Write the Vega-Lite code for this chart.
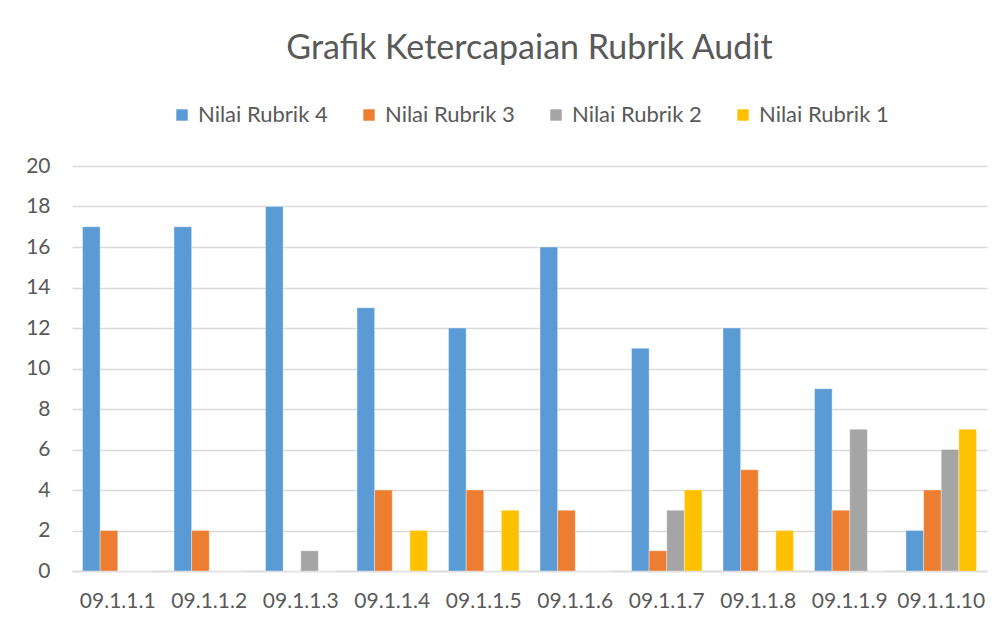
{
  "$schema": "https://vega.github.io/schema/vega-lite/v6.json",
  "width": 915,
  "height": 405,
  "autosize": {"type": "none"},
  "padding": {"left": 72, "top": 166, "right": 17, "bottom": 57},
  "background": "white",
  "title": {
    "text": "Grafik Ketercapaian Rubrik Audit",
    "fontSize": 34,
    "font": "Lato",
    "fontWeight": "normal",
    "color": "#595959",
    "anchor": "middle",
    "offset": 38
  },
  "data": {
    "values": [
      {"kode": "09.1.1.1", "seri": "Nilai Rubrik 4", "nilai": 17},
      {"kode": "09.1.1.1", "seri": "Nilai Rubrik 3", "nilai": 2},
      {"kode": "09.1.1.1", "seri": "Nilai Rubrik 2", "nilai": 0},
      {"kode": "09.1.1.1", "seri": "Nilai Rubrik 1", "nilai": 0},
      {"kode": "09.1.1.2", "seri": "Nilai Rubrik 4", "nilai": 17},
      {"kode": "09.1.1.2", "seri": "Nilai Rubrik 3", "nilai": 2},
      {"kode": "09.1.1.2", "seri": "Nilai Rubrik 2", "nilai": 0},
      {"kode": "09.1.1.2", "seri": "Nilai Rubrik 1", "nilai": 0},
      {"kode": "09.1.1.3", "seri": "Nilai Rubrik 4", "nilai": 18},
      {"kode": "09.1.1.3", "seri": "Nilai Rubrik 3", "nilai": 0},
      {"kode": "09.1.1.3", "seri": "Nilai Rubrik 2", "nilai": 1},
      {"kode": "09.1.1.3", "seri": "Nilai Rubrik 1", "nilai": 0},
      {"kode": "09.1.1.4", "seri": "Nilai Rubrik 4", "nilai": 13},
      {"kode": "09.1.1.4", "seri": "Nilai Rubrik 3", "nilai": 4},
      {"kode": "09.1.1.4", "seri": "Nilai Rubrik 2", "nilai": 0},
      {"kode": "09.1.1.4", "seri": "Nilai Rubrik 1", "nilai": 2},
      {"kode": "09.1.1.5", "seri": "Nilai Rubrik 4", "nilai": 12},
      {"kode": "09.1.1.5", "seri": "Nilai Rubrik 3", "nilai": 4},
      {"kode": "09.1.1.5", "seri": "Nilai Rubrik 2", "nilai": 0},
      {"kode": "09.1.1.5", "seri": "Nilai Rubrik 1", "nilai": 3},
      {"kode": "09.1.1.6", "seri": "Nilai Rubrik 4", "nilai": 16},
      {"kode": "09.1.1.6", "seri": "Nilai Rubrik 3", "nilai": 3},
      {"kode": "09.1.1.6", "seri": "Nilai Rubrik 2", "nilai": 0},
      {"kode": "09.1.1.6", "seri": "Nilai Rubrik 1", "nilai": 0},
      {"kode": "09.1.1.7", "seri": "Nilai Rubrik 4", "nilai": 11},
      {"kode": "09.1.1.7", "seri": "Nilai Rubrik 3", "nilai": 1},
      {"kode": "09.1.1.7", "seri": "Nilai Rubrik 2", "nilai": 3},
      {"kode": "09.1.1.7", "seri": "Nilai Rubrik 1", "nilai": 4},
      {"kode": "09.1.1.8", "seri": "Nilai Rubrik 4", "nilai": 12},
      {"kode": "09.1.1.8", "seri": "Nilai Rubrik 3", "nilai": 5},
      {"kode": "09.1.1.8", "seri": "Nilai Rubrik 2", "nilai": 0},
      {"kode": "09.1.1.8", "seri": "Nilai Rubrik 1", "nilai": 2},
      {"kode": "09.1.1.9", "seri": "Nilai Rubrik 4", "nilai": 9},
      {"kode": "09.1.1.9", "seri": "Nilai Rubrik 3", "nilai": 3},
      {"kode": "09.1.1.9", "seri": "Nilai Rubrik 2", "nilai": 7},
      {"kode": "09.1.1.9", "seri": "Nilai Rubrik 1", "nilai": 0},
      {"kode": "09.1.1.10", "seri": "Nilai Rubrik 4", "nilai": 2},
      {"kode": "09.1.1.10", "seri": "Nilai Rubrik 3", "nilai": 4},
      {"kode": "09.1.1.10", "seri": "Nilai Rubrik 2", "nilai": 6},
      {"kode": "09.1.1.10", "seri": "Nilai Rubrik 1", "nilai": 7}
    ]
  },
  "mark": {"type": "bar", "stroke": "white", "strokeWidth": 0.6, "strokeOpacity": 0.6},
  "encoding": {
    "x": {
      "field": "kode",
      "type": "nominal",
      "sort": null,
      "title": null,
      "scale": {"paddingInner": 0.23, "paddingOuter": 0.115},
      "axis": {
        "labelAngle": 0,
        "labelFont": "Lato",
        "labelFontSize": 21,
        "labelColor": "#595959",
        "labelPadding": 19,
        "ticks": false,
        "domain": true,
        "domainColor": "#D9D9D9",
        "domainWidth": 1.5,
        "grid": false
      }
    },
    "xOffset": {
      "field": "seri",
      "type": "nominal",
      "sort": ["Nilai Rubrik 4", "Nilai Rubrik 3", "Nilai Rubrik 2", "Nilai Rubrik 1"],
      "scale": {"paddingInner": 0, "paddingOuter": 0}
    },
    "y": {
      "field": "nilai",
      "type": "quantitative",
      "title": null,
      "scale": {"domain": [0, 20], "nice": false},
      "axis": {
        "values": [0, 2, 4, 6, 8, 10, 12, 14, 16, 18, 20],
        "labelFont": "Lato",
        "labelFontSize": 21,
        "labelColor": "#595959",
        "labelPadding": 22,
        "ticks": false,
        "domain": false,
        "grid": true,
        "gridColor": "#D9D9D9",
        "gridWidth": 1.5
      }
    },
    "color": {
      "field": "seri",
      "type": "nominal",
      "title": null,
      "scale": {
        "domain": ["Nilai Rubrik 4", "Nilai Rubrik 3", "Nilai Rubrik 2", "Nilai Rubrik 1"],
        "range": ["#5B9BD5", "#ED7D31", "#A5A5A5", "#FFC000"]
      },
      "legend": {
        "orient": "top",
        "direction": "horizontal",
        "symbolType": "square",
        "symbolSize": 130,
        "symbolStrokeWidth": 0,
        "labelFont": "Lato",
        "labelFontSize": 22,
        "labelColor": "#595959",
        "columnPadding": 30,
        "labelOffset": 5,
        "offset": 40
      }
    }
  },
  "config": {
    "view": {"stroke": null},
    "legend": {"layout": {"top": {"anchor": "middle"}}}
  }
}
